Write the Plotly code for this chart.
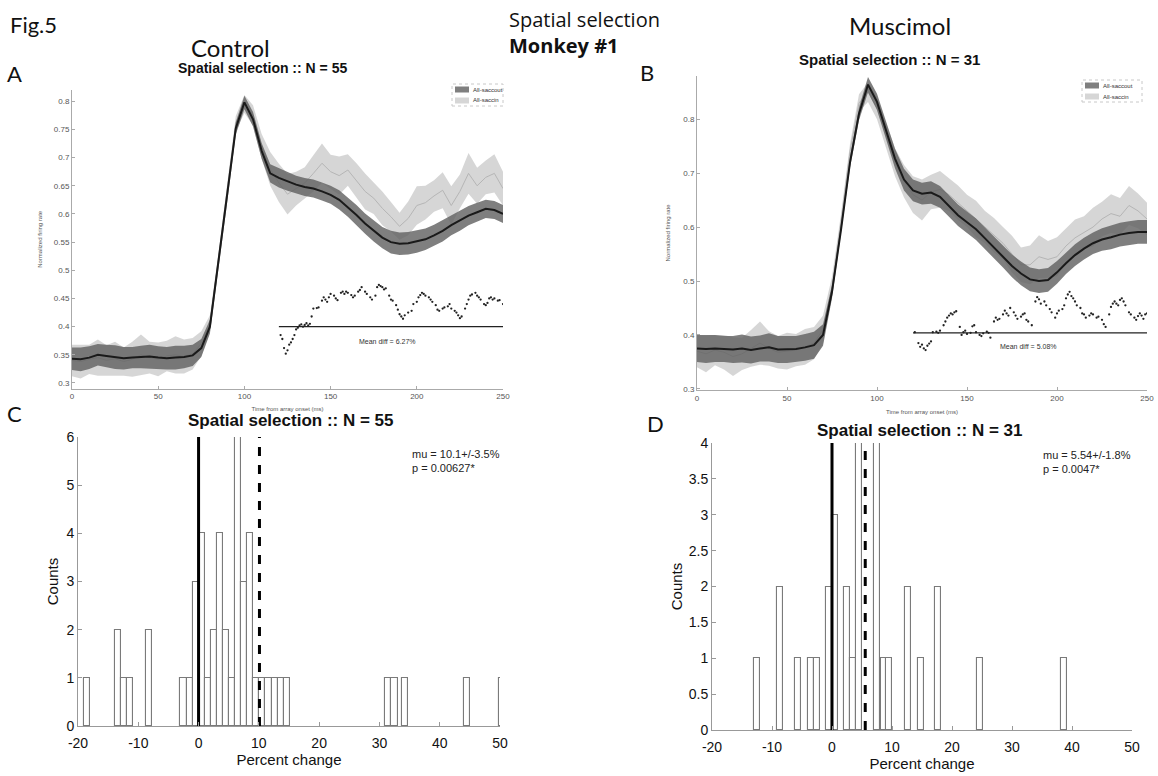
import plotly.graph_objects as go

# ---------------- data ----------------
t = list(range(0, 251, 5))

A_out_mean = [0.343, 0.342, 0.345, 0.350, 0.348, 0.346, 0.344, 0.345, 0.346, 0.347, 0.345,
              0.344, 0.345, 0.346, 0.349, 0.362, 0.400, 0.515, 0.630, 0.752, 0.798, 0.768,
              0.712, 0.672, 0.664, 0.658, 0.652, 0.648, 0.645, 0.640, 0.634, 0.625, 0.612,
              0.598, 0.583, 0.570, 0.558, 0.550, 0.547, 0.548, 0.551, 0.555, 0.562, 0.570,
              0.580, 0.588, 0.597, 0.603, 0.609, 0.607, 0.600]
A_out_hw = [0.020, 0.021, 0.020, 0.019, 0.020, 0.021, 0.020, 0.019, 0.020, 0.021, 0.020,
            0.020, 0.021, 0.020, 0.019, 0.016, 0.012, 0.010, 0.010, 0.011, 0.012, 0.013,
            0.014, 0.016, 0.017, 0.017, 0.016, 0.016, 0.016, 0.016, 0.016, 0.017, 0.017,
            0.018, 0.018, 0.019, 0.019, 0.020, 0.020, 0.020, 0.020, 0.019, 0.019, 0.019,
            0.018, 0.018, 0.017, 0.017, 0.016, 0.016, 0.016]
A_in_mean = [0.340, 0.338, 0.342, 0.345, 0.340, 0.343, 0.338, 0.342, 0.350, 0.345, 0.342,
             0.348, 0.350, 0.347, 0.352, 0.370, 0.405, 0.520, 0.640, 0.760, 0.795, 0.775,
             0.720, 0.680, 0.655, 0.635, 0.645, 0.655, 0.672, 0.690, 0.675, 0.668, 0.678,
             0.660, 0.640, 0.628, 0.610, 0.595, 0.578, 0.592, 0.615, 0.620, 0.632, 0.642,
             0.615, 0.640, 0.672, 0.650, 0.665, 0.672, 0.645]
A_in_hw = [0.028, 0.030, 0.026, 0.032, 0.027, 0.030, 0.025, 0.031, 0.036, 0.028, 0.030,
           0.027, 0.033, 0.030, 0.028, 0.022, 0.015, 0.012, 0.012, 0.014, 0.016, 0.018,
           0.022, 0.030, 0.034, 0.036, 0.030, 0.028, 0.032, 0.035, 0.030, 0.034, 0.028,
           0.030, 0.032, 0.028, 0.030, 0.026, 0.024, 0.030, 0.034, 0.030, 0.028, 0.032,
           0.034, 0.030, 0.036, 0.032, 0.030, 0.034, 0.030]

B_out_mean = [0.375, 0.374, 0.375, 0.374, 0.373, 0.375, 0.372, 0.375, 0.377, 0.373, 0.373,
              0.374, 0.377, 0.381, 0.400, 0.480, 0.595, 0.720, 0.810, 0.864, 0.832, 0.780,
              0.727, 0.688, 0.668, 0.662, 0.664, 0.656, 0.639, 0.622, 0.609, 0.596, 0.579,
              0.562, 0.545, 0.528, 0.514, 0.503, 0.500, 0.502, 0.516, 0.533, 0.548, 0.560,
              0.570, 0.577, 0.581, 0.586, 0.589, 0.591, 0.591]
B_out_hw = [0.025, 0.026, 0.025, 0.024, 0.025, 0.026, 0.025, 0.024, 0.026, 0.025, 0.025,
            0.024, 0.025, 0.025, 0.020, 0.012, 0.010, 0.010, 0.012, 0.014, 0.015, 0.016,
            0.018, 0.020, 0.020, 0.020, 0.021, 0.020, 0.020, 0.020, 0.020, 0.020, 0.020,
            0.020, 0.020, 0.021, 0.022, 0.022, 0.022, 0.022, 0.021, 0.020, 0.020, 0.020,
            0.020, 0.021, 0.022, 0.022, 0.022, 0.022, 0.022]
B_in_mean = [0.370, 0.365, 0.372, 0.368, 0.360, 0.365, 0.375, 0.385, 0.375, 0.368, 0.370,
             0.372, 0.378, 0.385, 0.410, 0.490, 0.610, 0.740, 0.830, 0.850, 0.820, 0.770,
             0.720, 0.685, 0.660, 0.650, 0.665, 0.670, 0.660, 0.645, 0.630, 0.615, 0.600,
             0.585, 0.570, 0.550, 0.530, 0.530, 0.545, 0.540, 0.545, 0.565, 0.580, 0.590,
             0.600, 0.615, 0.625, 0.620, 0.640, 0.630, 0.615]
B_in_hw = [0.030, 0.034, 0.028, 0.032, 0.036, 0.030, 0.034, 0.040, 0.032, 0.030, 0.034,
           0.030, 0.033, 0.030, 0.026, 0.018, 0.014, 0.014, 0.016, 0.018, 0.020, 0.022,
           0.026, 0.030, 0.034, 0.038, 0.032, 0.034, 0.030, 0.032, 0.030, 0.034, 0.030,
           0.032, 0.030, 0.034, 0.032, 0.036, 0.040, 0.034, 0.036, 0.032, 0.034, 0.030,
           0.036, 0.032, 0.036, 0.034, 0.036, 0.032, 0.030]

A_diff_t = [121, 122, 123, 124, 125, 126, 127, 128, 129, 130, 131, 132, 133, 134, 135, 136, 137,
            138, 139, 140, 142, 143, 145, 146, 147, 148, 149, 150, 152, 153, 154, 156, 157, 158,
            159, 160, 162, 163, 164, 166, 167, 168, 170, 171, 173, 174, 176, 177, 178, 179, 180,
            181, 182, 184, 185, 186, 188, 189, 190, 191, 192, 193, 195, 197, 198, 200, 201, 202,
            203, 204, 205, 207, 208, 209, 211, 212, 213, 215, 216, 218, 219, 220, 222, 223, 224,
            225, 226, 228, 229, 230, 231, 232, 234, 235, 236, 237, 239, 240, 241, 242, 243, 244,
            245, 247, 248, 250]
A_diff_v = [0.385, 0.378, 0.362, 0.352, 0.358, 0.368, 0.372, 0.378, 0.385, 0.395, 0.398, 0.402,
            0.404, 0.400, 0.403, 0.406, 0.402, 0.405, 0.418, 0.432, 0.433, 0.434, 0.446, 0.452,
            0.448, 0.444, 0.452, 0.458, 0.455, 0.450, 0.447, 0.460, 0.462, 0.458, 0.462, 0.460,
            0.456, 0.452, 0.455, 0.462, 0.465, 0.470, 0.462, 0.458, 0.452, 0.448, 0.455, 0.470,
            0.474, 0.472, 0.470, 0.466, 0.468, 0.455, 0.448, 0.446, 0.438, 0.430, 0.422, 0.418,
            0.414, 0.420, 0.425, 0.428, 0.440, 0.444, 0.452, 0.456, 0.460, 0.458, 0.455, 0.452,
            0.448, 0.444, 0.438, 0.430, 0.428, 0.432, 0.434, 0.436, 0.440, 0.432, 0.428, 0.425,
            0.420, 0.415, 0.418, 0.432, 0.440, 0.448, 0.455, 0.457, 0.460, 0.455, 0.452, 0.448,
            0.440, 0.438, 0.442, 0.450, 0.452, 0.448, 0.450, 0.446, 0.447, 0.440]
B_diff_t = [121, 123, 124, 125, 126, 127, 128, 129, 130, 131, 133, 134, 135, 137, 138, 139, 140,
            141, 142, 143, 144, 146, 147, 148, 149, 150, 152, 153, 154, 155, 157, 158, 159, 161,
            162, 163, 165, 166, 167, 168, 170, 171, 172, 173, 174, 176, 177, 178, 180, 181, 182,
            183, 184, 186, 188, 189, 190, 191, 193, 194, 196, 197, 199, 200, 201, 203, 204, 205,
            206, 207, 208, 209, 210, 211, 213, 214, 215, 216, 218, 219, 220, 222, 223, 225, 226,
            227, 229, 230, 231, 232, 233, 234, 235, 236, 237, 238, 240, 241, 243, 244, 245, 246,
            247, 248, 249, 250]
B_diff_v = [0.405, 0.385, 0.378, 0.382, 0.375, 0.372, 0.380, 0.384, 0.388, 0.405, 0.406, 0.404,
            0.408, 0.418, 0.425, 0.432, 0.436, 0.440, 0.438, 0.442, 0.444, 0.415, 0.400, 0.405,
            0.408, 0.402, 0.404, 0.416, 0.418, 0.405, 0.400, 0.398, 0.403, 0.406, 0.404, 0.395,
            0.425, 0.432, 0.428, 0.430, 0.438, 0.445, 0.440, 0.436, 0.450, 0.442, 0.436, 0.430,
            0.434, 0.438, 0.440, 0.428, 0.425, 0.418, 0.462, 0.470, 0.466, 0.458, 0.462, 0.455,
            0.448, 0.442, 0.432, 0.440, 0.445, 0.448, 0.455, 0.468, 0.475, 0.480, 0.472, 0.468,
            0.462, 0.455, 0.450, 0.440, 0.438, 0.432, 0.436, 0.440, 0.438, 0.432, 0.434, 0.428,
            0.420, 0.415, 0.438, 0.452, 0.458, 0.462, 0.458, 0.455, 0.465, 0.468, 0.462, 0.455,
            0.442, 0.438, 0.432, 0.428, 0.435, 0.440, 0.436, 0.430, 0.438, 0.440]
A_diff_zero = 0.400
B_diff_zero = 0.404
diff_span = [120, 250]

C_centers = [-18.5, -13.4, -12.4, -11.4, -8.3, -2.5, -1.5, -0.5, 0.55, 1.6, 2.6, 3.55, 4.55,
             5.6, 6.6, 7.6, 8.6, 9.6, 10.6, 11.6, 12.6, 13.6, 14.6, 31.5, 32.5, 34.3, 44.5, 50.3]
C_counts = [1, 2, 1, 1, 2, 1, 1, 3, 4, 1, 2, 4, 2, 1, 6, 3, 4, 1, 1, 1, 1, 1, 1, 1, 1, 1, 1, 1]
D_centers = [-12.5, -8.6, -5.6, -3.5, -2.5, -0.5, 0.5, 2.5, 3.5, 4.5, 7.5, 8.6, 9.5, 12.6,
             14.8, 17.7, 24.6, 38.7]
D_counts = [1, 2, 1, 1, 1, 2, 3, 2, 1, 4, 4, 1, 1, 2, 1, 2, 1, 1]
C_mu = 10.1
D_mu = 5.54

pct_ticks = [-20, -10, 0, 10, 20, 30, 40, 50]
pct_tick_text = ["-20", "-10", "0", "10", "20", "30", "40", "50"]
legend_names = ["All-saccout", "All-saccin"]

# ---------------- figure ----------------
AX = "Liberation Sans, Arial, sans-serif"
CAL = "Lato, Open Sans, sans-serif"
W, H = 1158, 776
DARK = "rgba(95,95,95,0.8)"
LIGHT = "rgba(200,200,200,0.75)"
fig = go.Figure()


def add_band(mean, hw, xa, ya, color, name):
    upper = [m + h for m, h in zip(mean, hw)]
    lower = [m - h for m, h in zip(mean, hw)]
    fig.add_trace(go.Scatter(x=t + t[::-1], y=upper + lower[::-1], fill="toself",
                             fillcolor=color, line=dict(width=0), mode="lines",
                             name=name, showlegend=False,
                             xaxis=xa, yaxis=ya, hoverinfo="skip"))


for (om, oh, im, ih, dt, dv, zero, xa, ya) in [
        (A_out_mean, A_out_hw, A_in_mean, A_in_hw, A_diff_t, A_diff_v, A_diff_zero, "x", "y"),
        (B_out_mean, B_out_hw, B_in_mean, B_in_hw, B_diff_t, B_diff_v, B_diff_zero, "x2", "y2")]:
    add_band(im, ih, xa, ya, LIGHT, legend_names[1])
    fig.add_trace(go.Scatter(x=t, y=im, mode="lines", line=dict(color="#b5b5b5", width=1),
                             showlegend=False, xaxis=xa, yaxis=ya))
    add_band(om, oh, xa, ya, DARK, legend_names[0])
    fig.add_trace(go.Scatter(x=t, y=om, mode="lines", line=dict(color="#1a1a1a", width=2),
                             showlegend=False, xaxis=xa, yaxis=ya))
    fig.add_trace(go.Scatter(x=diff_span, y=[zero, zero], mode="lines",
                             line=dict(color="#222", width=1.3), showlegend=False,
                             xaxis=xa, yaxis=ya))
    fig.add_trace(go.Scatter(x=dt, y=dv, mode="markers", marker=dict(color="#222", size=2.3),
                             showlegend=False, xaxis=xa, yaxis=ya))

for (cen, cnt, mu, ytop, xa, ya) in [(C_centers, C_counts, C_mu, 6, "x3", "y3"),
                                     (D_centers, D_counts, D_mu, 4, "x4", "y4")]:
    fig.add_trace(go.Bar(x=cen, y=cnt, width=1.0, marker=dict(color="white",
                         line=dict(color="#7a7a7a", width=1.1)), showlegend=False,
                         xaxis=xa, yaxis=ya))
    fig.add_trace(go.Scatter(x=[0, 0], y=[0, ytop], mode="lines",
                             line=dict(color="black", width=3), showlegend=False,
                             xaxis=xa, yaxis=ya))
    fig.add_trace(go.Scatter(x=[mu, mu], y=[0, ytop], mode="lines",
                             line=dict(color="black", width=3, dash="dash"), showlegend=False,
                             xaxis=xa, yaxis=ya))


def px_x(a, b):
    return [a / W, b / W]


def px_y(top, bottom):
    return [1 - bottom / H, 1 - top / H]


small_axis = dict(showline=True, linecolor="#aaaaaa", linewidth=1, ticks="inside", ticklen=3,
                  tickcolor="#aaaaaa", tickfont=dict(size=8, color="#555", family=AX),
                  showgrid=False, zeroline=False, automargin=False)
big_axis = dict(showline=True, linecolor="#999999", linewidth=1, ticks="inside", ticklen=4,
                tickcolor="#999999", tickfont=dict(size=14, color="#111", family=AX),
                showgrid=False, zeroline=False, automargin=False)
small_title = dict(size=6, color="#555")
big_title = dict(size=15, color="#111")

fig.update_layout(
    width=W, height=H, margin=dict(l=0, r=0, t=0, b=0),
    paper_bgcolor="white", plot_bgcolor="white", bargap=0, showlegend=False,
    font=dict(family=AX, color="#111"),
    xaxis=dict(small_axis, domain=px_x(72, 503), range=[0, 250], dtick=50, anchor="y",
               title=dict(text="Time from array onset (ms)", font=small_title, standoff=6)),
    yaxis=dict(small_axis, domain=px_y(90, 388.6), range=[0.29, 0.82], dtick=0.05, tick0=0.3,
               anchor="x",
               title=dict(text="Normalized firing rate", font=small_title, standoff=10)),
    xaxis2=dict(small_axis, domain=px_x(697, 1147), range=[0, 250], dtick=50, anchor="y2",
                title=dict(text="Time from array onset (ms)", font=small_title, standoff=8)),
    yaxis2=dict(small_axis, domain=px_y(76, 390), range=[0.298, 0.88], dtick=0.1, tick0=0.3,
                anchor="x2",
                title=dict(text="Normalized firing rate", font=small_title, standoff=12)),
    xaxis3=dict(big_axis, domain=px_x(78, 500), range=[-20, 50], tickvals=pct_ticks,
                ticktext=pct_tick_text, anchor="y3", ticklabelstandoff=4,
                title=dict(text="Percent change", font=big_title, standoff=3)),
    yaxis3=dict(big_axis, domain=px_y(437, 726), range=[0, 6], dtick=1, anchor="x3",
                title=dict(text="Counts", font=big_title, standoff=4)),
    xaxis4=dict(big_axis, domain=px_x(712, 1132), range=[-20, 50], tickvals=pct_ticks,
                ticktext=pct_tick_text, anchor="y4", ticklabelstandoff=4,
                title=dict(text="Percent change", font=big_title, standoff=4)),
    yaxis4=dict(big_axis, domain=px_y(443, 730), range=[0, 4], dtick=0.5, anchor="x4",
                title=dict(text="Counts", font=big_title, standoff=2)),
)


def ann(text, x, y, size, bold=False, fam=CAL, xanchor="center", color="#111"):
    fig.add_annotation(text=("<b>%s</b>" % text) if bold else text, x=x / W, y=1 - y / H,
                       xref="paper", yref="paper", showarrow=False, xanchor=xanchor,
                       yanchor="middle", font=dict(size=size, family=fam, color=color))


# hand-drawn legends (small boxes as in the original)
def mini_legend(x0, y0, x1, y1):
    fig.add_shape(type="rect", xref="paper", yref="paper", x0=x0 / W, x1=x1 / W,
                  y0=1 - y1 / H, y1=1 - y0 / H, line=dict(color="#c8c8c8", width=1, dash="dot"),
                  fillcolor="white")
    mid = (y0 + y1) / 2
    rows = [((y0 + mid) / 2, DARK, legend_names[0]), ((mid + y1) / 2, LIGHT, legend_names[1])]
    for yc, col, name in rows:
        fig.add_shape(type="rect", xref="paper", yref="paper", x0=(x0 + 3) / W,
                      x1=(x0 + 17) / W, y0=1 - (yc + 3) / H, y1=1 - (yc - 3) / H,
                      line=dict(width=0), fillcolor=col)
        fig.add_annotation(text=name, x=(x0 + 19) / W, y=1 - yc / H, xref="paper", yref="paper",
                           showarrow=False, xanchor="left", yanchor="middle",
                           font=dict(size=6, color="#333", family=AX))


mini_legend(452, 84, 503, 106)
mini_legend(1082, 80, 1142, 102)

ann("Fig.5", 8, 25, 22, xanchor="left")
ann("A", 15, 73, 22)
ann("Control", 230, 47, 24)
fig.add_annotation(text="Spatial selection<br><b>Monkey #1</b>", x=507 / W, y=1 - 33 / H,
                   xref="paper", yref="paper", showarrow=False, xanchor="left",
                   yanchor="middle", align="left",
                   font=dict(size=20, family="Open Sans, sans-serif", color="#111"))
ann("B", 647, 72, 22)
ann("Muscimol", 900, 26, 24)
ann("C", 15, 413, 22)
ann("D", 655, 424, 22)
ann("Spatial selection :: N = 55", 262, 68, 14, bold=True, fam=AX)
ann("Spatial selection :: N = 31", 889, 60, 15, bold=True, fam=AX)
ann("Spatial selection :: N = 55", 291, 421, 17, bold=True, fam=AX)
ann("Spatial selection :: N = 31", 920, 430, 17, bold=True, fam=AX)

fig.add_annotation(text="Mean diff = 6.27%", x=183, y=0.373, xref="x", yref="y",
                   showarrow=False, font=dict(size=7, color="#333", family=AX))
fig.add_annotation(text="Mean diff = 5.08%", x=184, y=0.378, xref="x2", yref="y2",
                   showarrow=False, font=dict(size=7, color="#333", family=AX))
fig.add_annotation(text="mu = 10.1+/-3.5%<br>p = 0.00627*", x=35.1, y=5.5, xref="x3",
                   yref="y3", showarrow=False, xanchor="left", yanchor="middle", align="left",
                   font=dict(size=11, color="#222", family=AX))
fig.add_annotation(text="mu = 5.54+/-1.8%<br>p = 0.0047*", x=34.8, y=3.73, xref="x4",
                   yref="y4", showarrow=False, xanchor="left", yanchor="middle", align="left",
                   font=dict(size=11, color="#222", family=AX))

fig.write_html("out.html")
